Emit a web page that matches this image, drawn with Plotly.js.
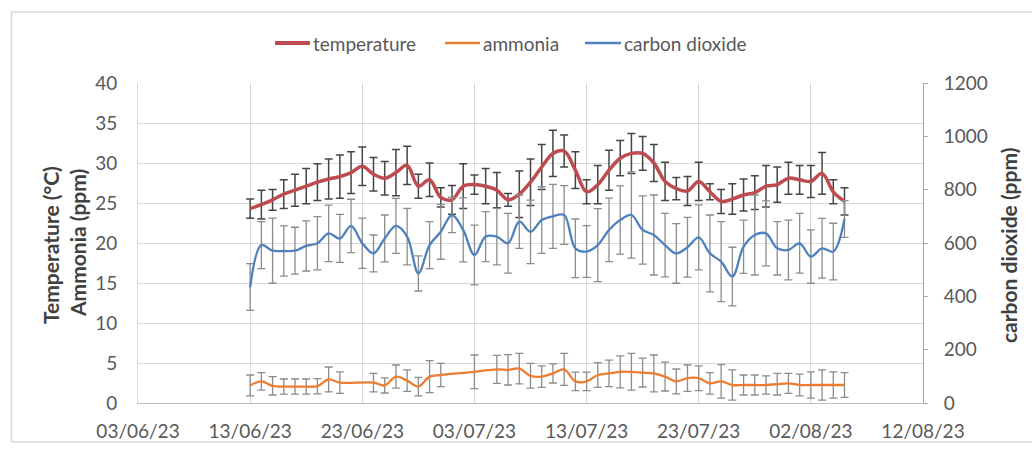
<!DOCTYPE html>
<html>
<head>
<meta charset="utf-8">
<script src="https://cdn.plot.ly/plotly-3.0.1.min.js"></script>
<style>
  html, body { margin: 0; padding: 0; background: #ffffff; }
  #chart { width: 1032px; height: 452px; }
</style>
</head>
<body>
<div id="chart"></div>
<script>
// Daily sampling dates (13 June – 5 August 2023)
const dates = [
  '2023-06-13','2023-06-14','2023-06-15','2023-06-16','2023-06-17','2023-06-18','2023-06-19',
  '2023-06-20','2023-06-21','2023-06-22','2023-06-23','2023-06-24','2023-06-25','2023-06-26',
  '2023-06-27','2023-06-28','2023-06-29','2023-06-30','2023-07-01','2023-07-02','2023-07-03',
  '2023-07-04','2023-07-05','2023-07-06','2023-07-07','2023-07-08','2023-07-09','2023-07-10',
  '2023-07-11','2023-07-12','2023-07-13','2023-07-14','2023-07-15','2023-07-16','2023-07-17',
  '2023-07-18','2023-07-19','2023-07-20','2023-07-21','2023-07-22','2023-07-23','2023-07-24',
  '2023-07-25','2023-07-26','2023-07-27','2023-07-28','2023-07-29','2023-07-30','2023-07-31',
  '2023-08-01','2023-08-02','2023-08-03','2023-08-04','2023-08-05'
];

// Temperature (°C): daily mean and standard deviation
const temperature = [
  24.3, 24.8, 25.4, 26.1, 26.6, 27.1, 27.6, 28.0, 28.3, 28.8, 29.6, 28.6, 28.1, 28.8,
  29.7, 27.1, 27.9, 25.7, 25.4, 27.1, 27.3, 27.1, 26.6, 25.4, 26.1, 27.6, 29.5, 31.2,
  31.5, 29.1, 26.4, 27.3, 29.1, 30.6, 31.2, 31.2, 30.0, 27.7, 26.8, 26.5, 27.7, 26.4,
  25.2, 25.5, 26.0, 26.3, 27.1, 27.3, 28.1, 27.9, 27.7, 28.7, 26.4, 25.2
];
const temperatureErr = [
  1.2, 1.8, 1.3, 1.8, 2.0, 2.2, 2.3, 2.5, 2.7, 2.6, 2.4, 2.1, 2.1, 2.9,
  2.4, 1.5, 2.1, 1.2, 1.8, 2.8, 1.2, 2.2, 2.2, 0.8, 2.9, 2.9, 2.8, 2.9,
  2.0, 2.3, 1.5, 2.4, 2.5, 2.2, 2.5, 2.1, 2.3, 2.4, 1.4, 1.8, 2.4, 1.0,
  1.5, 1.9, 2.0, 2.1, 2.6, 2.2, 2.0, 1.8, 2.0, 2.6, 1.5, 1.7
];

// Ammonia (ppm): days without a reading are null
const ammonia = [
  2.2, 2.7, 2.15, 2.05, 2.05, 2.05, 2.1, 2.95, 2.55, null, null, 2.55, 2.2, 3.3,
  2.8, 2.05, 3.3, 3.5, null, null, 3.9, null, 4.2, 4.15, 4.3, 3.4, 3.3, 3.7,
  4.2, 2.7, 2.7, 3.5, 3.7, 3.9, 3.9, 3.8, 3.7, 3.3, 2.7, 3.1, 3.1, 2.45,
  2.7, 2.25, 2.25, 2.25, 2.25, 2.35, 2.45, 2.25, 2.25, 2.25, 2.25, 2.25
];
const ammoniaErr = [
  1.3, 1.1, 1.15, 0.95, 0.95, 0.95, 0.95, 1.55, 1.35, null, null, 1.15, 0.95, 1.45,
  1.35, 1.15, 2.0, 1.45, null, null, 2.1, null, 1.75, 1.9, 1.9, 1.55, 1.35, 1.2,
  2.0, 1.15, 1.15, 1.55, 1.65, 2.0, 2.3, 1.8, 2.3, 1.8, 1.55, 1.65, 1.55, 1.35,
  2.1, 1.9, 1.25, 1.25, 1.15, 1.35, 1.25, 1.35, 1.65, 1.9, 1.65, 1.55
];

// Carbon dioxide (ppm), plotted on the right-hand axis
const carbonDioxide = [
  435, 592, 571, 570, 571, 589, 599, 636, 617, 664, 599, 561, 617, 664,
  624, 486, 592, 642, 705, 649, 555, 624, 624, 599, 680, 642, 686, 700,
  705, 580, 568, 592, 649, 686, 705, 649, 630, 592, 561, 584, 621, 561,
  530, 474, 586, 630, 636, 580, 574, 599, 549, 580, 568, 690
];
const carbonDioxideErr = [
  88, 88, 122, 94, 88, 94, 100, 106, 90, 100, 94, 69, 88, 103,
  106, 66, 88, 103, 66, 120, 112, 94, 106, 112, 100, 119, 125, 120,
  110, 110, 97, 137, 119, 128, 162, 128, 150, 119, 112, 112, 122, 144,
  150, 110, 100, 150, 122, 100, 112, 112, 100, 112, 106, 69
];

const seriesNames = ['temperature', 'ammonia', 'carbon dioxide'];
const seriesColors = ['#be4b4f', '#ed7d31', '#4f81bd'];
const leftTitleLines = ['Temperature (°C)', 'Ammonia (ppm)'];
const rightTitle = 'carbon dioxide (ppm)';

const FONT = 'Lato, "Open Sans", sans-serif';

function series(name, y, err, color, width, barColor, barWidth, yaxis) {
  return {
    type: 'scatter',
    mode: 'lines',
    name: name,
    x: dates,
    y: y,
    yaxis: yaxis,
    connectgaps: true,
    showlegend: false,
    line: { color: color, width: width, shape: 'spline', smoothing: 1 },
    error_y: {
      type: 'data', array: err, visible: true,
      color: barColor, thickness: barWidth, width: 4
    }
  };
}

const lineWidths = [3.5, 2.3, 2.3];
const traces = [
  series(seriesNames[0], temperature, temperatureErr, seriesColors[0], lineWidths[0], '#454545', 1.5, 'y'),
  series(seriesNames[1], ammonia, ammoniaErr, seriesColors[1], lineWidths[1], '#8c8c8c', 1.3, 'y'),
  series(seriesNames[2], carbonDioxide, carbonDioxideErr, seriesColors[2], lineWidths[2], '#8c8c8c', 1.3, 'y2')
];

// plot area spans x 138–923 px, y 83–403 px
const PL = 138, PR = 923, PT = 83, PB = 403;
const px = v => (v - PL) / (PR - PL);
const py = v => (PB - v) / (PB - PT);

const titleFont = { family: FONT, size: 21, color: '#404040', weight: 'bold' };

// legend row drawn as line samples plus labels
const legendY = 43;
const legendSwatches = [[275, 310], [445, 480], [585, 621]];
const legendShapes = legendSwatches.map((s, i) => ({
  type: 'line', xref: 'paper', yref: 'paper',
  x0: px(s[0]), x1: px(s[1]), y0: py(legendY), y1: py(legendY),
  line: { color: seriesColors[i], width: i === 0 ? 4 : 2.5 }
}));
const legendLabels = legendSwatches.map((s, i) => ({
  text: seriesNames[i], xref: 'paper', yref: 'paper',
  x: px(s[1] + 1), y: py(legendY), xanchor: 'left', yanchor: 'middle',
  showarrow: false, font: { family: FONT, size: 19, color: '#595959' }
}));

const layout = {
  width: 1032,
  height: 452,
  margin: { l: PL, r: 1032 - PR, t: PT, b: 452 - PB, pad: 0 },
  paper_bgcolor: '#ffffff',
  plot_bgcolor: '#ffffff',
  font: { family: FONT, size: 19, color: '#595959' },
  showlegend: false,
  xaxis: {
    type: 'date',
    range: ['2023-06-03', '2023-08-12'],
    tick0: '2023-06-03',
    dtick: 10 * 24 * 3600 * 1000,
    tickformat: '%d/%m/%y',
    showgrid: true,
    gridcolor: '#d9d9d9',
    gridwidth: 1,
    showline: true,
    linecolor: '#bfbfbf',
    linewidth: 1,
    ticks: '',
    ticklabelstandoff: 11,
    zeroline: false,
    fixedrange: true
  },
  yaxis: {
    range: [0, 40],
    tick0: 0,
    dtick: 5,
    showgrid: true,
    gridcolor: '#d9d9d9',
    gridwidth: 1,
    showline: true,
    linecolor: '#d9d9d9',
    zeroline: false,
    ticks: '',
    ticklabelstandoff: 16,
    fixedrange: true
  },
  yaxis2: {
    overlaying: 'y',
    side: 'right',
    range: [0, 1200],
    tick0: 0,
    dtick: 200,
    showgrid: false,
    zeroline: false,
    showline: true,
    linecolor: '#a6a6a6',
    ticks: 'outside',
    ticklen: 4,
    tickcolor: '#a6a6a6',
    ticklabelstandoff: 12,
    fixedrange: true
  },
  annotations: [
    { text: leftTitleLines[0], xref: 'paper', yref: 'paper', x: px(50), y: py(245),
      xanchor: 'center', yanchor: 'middle', textangle: -90, showarrow: false, font: titleFont },
    { text: leftTitleLines[1], xref: 'paper', yref: 'paper', x: px(77), y: py(243),
      xanchor: 'center', yanchor: 'middle', textangle: -90, showarrow: false, font: titleFont },
    { text: rightTitle, xref: 'paper', yref: 'paper', x: px(1008), y: py(246),
      xanchor: 'center', yanchor: 'middle', textangle: -90, showarrow: false, font: titleFont }
  ].concat(legendLabels),
  shapes: [
    { type: 'rect', xref: 'paper', yref: 'paper',
      x0: px(11.5), x1: px(1045), y0: py(442), y1: py(12),
      line: { color: '#d9d9d9', width: 1.5 }, fillcolor: 'rgba(0,0,0,0)', layer: 'below' }
  ].concat(legendShapes)
};

Plotly.newPlot('chart', traces, layout, { staticPlot: true, displayModeBar: false });
</script>
</body>
</html>
